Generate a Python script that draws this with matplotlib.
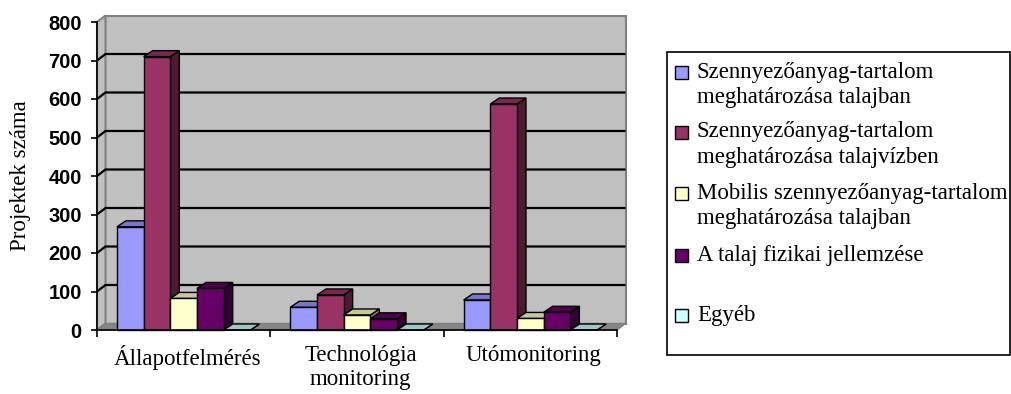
import numpy as np
import matplotlib
matplotlib.use('Agg')
import matplotlib.pyplot as plt
from matplotlib.patches import Polygon, Rectangle
import matplotlib.colors as mcolors

# data
categories = ['Állapotfelmérés', 'Technológia\nmonitoring', 'Utómonitoring']
series_names = ['Szennyezőanyag-tartalom\nmeghatározása talajban',
                'Szennyezőanyag-tartalom\nmeghatározása talajvízben',
                'Mobilis szennyezőanyag-tartalom\nmeghatározása talajban',
                'A talaj fizikai jellemzése',
                'Egyéb']
talaj = [268, 59, 78]
talajviz = [710, 91, 587]
mobilis = [82, 39, 30]
fizikai = [108, 29, 46]
egyeb = [0, 0, 0]
series_values = [talaj, talajviz, mobilis, fizikai, egyeb]
series_colors = ['#9999FF', '#993366', '#FFFFCC', '#660066', '#CCFFFF']
yticks = list(range(0, 801, 100))

W, H = 1012, 394
fig = plt.figure(figsize=(W / 100, H / 100), dpi=100)
# front frame of the plot in pixels
x0, x1, ybot, ytop = 97, 617, 330, 22
ax = fig.add_axes([x0 / W, 1 - ybot / H, (x1 - x0) / W, (ybot - ytop) / H])
ax.set_xlim(0, 3)
ax.set_ylim(0, 800)
ax.patch.set_visible(False)

# pixel -> data helpers for the 3d depth offsets
px_x = 3 / (x1 - x0)
px_y = 800 / (ybot - ytop)
wdx, wdy = 8.5 * px_x, 6.5 * px_y   # walls
bdx, bdy = 9 * px_x, 6 * px_y       # bars

def poly(pts, fc, ec, lw=1.0, z=1):
    ax.add_patch(Polygon(pts, closed=True, facecolor=fc, edgecolor=ec,
                         linewidth=lw, clip_on=False, zorder=z))

# back wall, side wall, floor
poly([(wdx, wdy), (3 + wdx, wdy), (3 + wdx, 800 + wdy), (wdx, 800 + wdy)], '#C0C0C0', '#808080', 1.5)
poly([(0, 0), (wdx, wdy), (wdx, 800 + wdy), (0, 800)], '#C0C0C0', '#808080', 1.5)
poly([(0, 0), (3, 0), (3 + wdx, wdy), (wdx, wdy)], '#868686', '#808080', 1.0)

for v in yticks[1:-1]:
    ax.plot([0, wdx, 3 + wdx], [v, v + wdy, v + wdy], color='black', lw=1.6,
            clip_on=False, zorder=1.2, solid_capstyle='butt')

def shade(c, f):
    r, g, b = mcolors.to_rgb(c)
    return (r * f, g * f, b * f)

bar_w = 0.154
start = 0.115
for i in range(len(categories)):
    for j, vals in enumerate(series_values):
        xl = i + start + j * bar_w
        xr = xl + bar_w
        v = vals[i]
        c = series_colors[j]
        poly([(xr, 0), (xr + bdx, bdy), (xr + bdx, v + bdy), (xr, v)], shade(c, 0.5), 'black', 1.0, 2)
        poly([(xl, v), (xr, v), (xr + bdx, v + bdy), (xl + bdx, v + bdy)], shade(c, 0.78), 'black', 1.0, 2)
        if v > 0:
            poly([(xl, 0), (xr, 0), (xr, v), (xl, v)], c, 'black', 1.0, 2)

for s in ['top', 'right']:
    ax.spines[s].set_visible(False)
for s in ['left', 'bottom']:
    ax.spines[s].set_linewidth(1.2)
    ax.spines[s].set_zorder(3)

serif = 16.5
ax.set_yticks(yticks)
ax.set_yticklabels([str(t) for t in yticks], fontfamily='Liberation Sans',
                   fontweight='bold', fontsize=14.5)
ax.tick_params(axis='y', direction='out', length=4, width=1.2, pad=7)
ax.set_xticks([0, 1, 2, 3])
ax.set_xticklabels([])
ax.set_xticks([0.5 + k + 0.02 for k in range(3)], minor=True)
ax.set_xticklabels(categories, minor=True, fontfamily='Liberation Serif', fontsize=serif,
                   linespacing=1.2)
ax.tick_params(axis='x', which='major', direction='out', length=5, width=1.2)
ax.tick_params(axis='x', which='minor', length=0, pad=11)

ax.set_ylabel('Projektek száma', fontfamily='Liberation Serif', fontsize=serif)
ax.yaxis.set_label_coords((31 - x0) / (x1 - x0), 0.5)

# legend box drawn by hand, in pixel positions of the reference
def fx(x):
    return x / W

def fy(y):
    return 1 - y / H

fig.patches.append(Rectangle((fx(667), fy(355)), fx(1010) - fx(667), fy(52) - fy(355),
                             transform=fig.transFigure, facecolor='white',
                             edgecolor='black', linewidth=1.2))
entry_y = [72.5, 132, 193, 255, 315]
for name, c, yy in zip(series_names, series_colors, entry_y):
    fig.patches.append(Rectangle((fx(675), fy(yy + 6.5)), fx(13), 13 / H,
                                 transform=fig.transFigure, facecolor=c,
                                 edgecolor='black', linewidth=1.0))
    for k, line in enumerate(name.split('\n')):
        fig.text(fx(697), fy(yy + 25.5 * k), line, fontfamily='Liberation Serif',
                 fontsize=serif, va='center', ha='left')

fig.savefig('out.png', dpi=100)
